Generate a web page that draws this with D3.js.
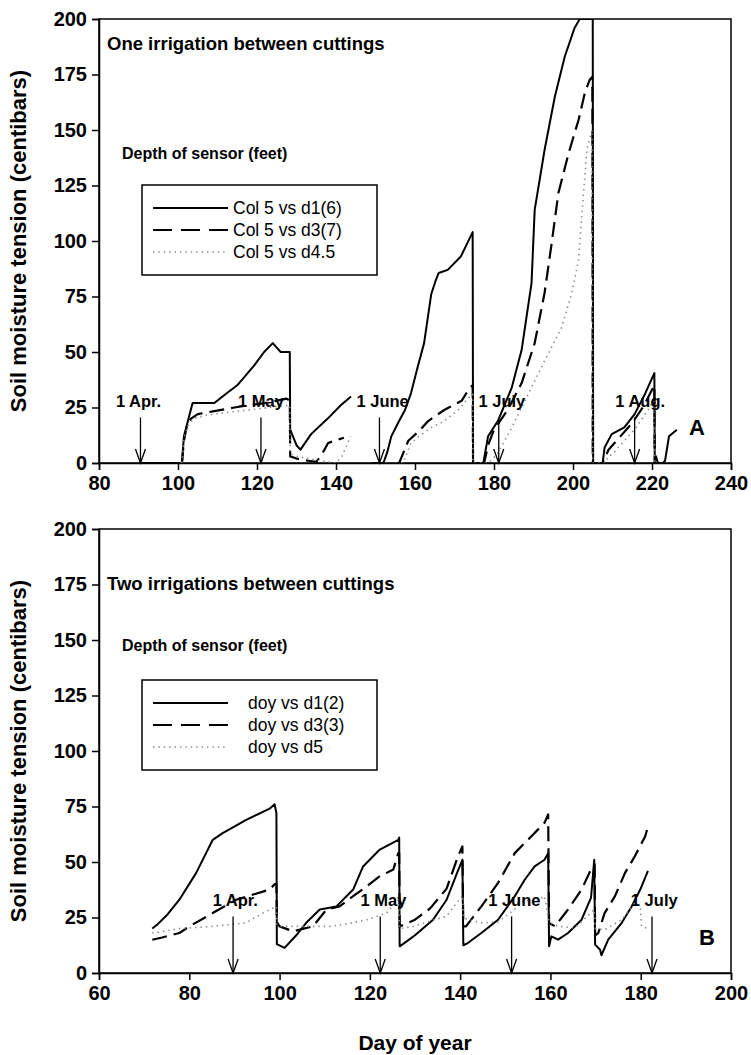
<!DOCTYPE html>
<html><head><meta charset="utf-8">
<script src="https://cdn.jsdelivr.net/npm/d3@7"></script>
<style>
body{margin:0;background:#fff;}
text{font-family:"Liberation Sans",Arial,sans-serif;fill:#000;}
</style></head>
<body><svg id="c" width="751" height="1055"></svg>
<script>
// ---------- DATA ----------
const topXTicks = [80,100,120,140,160,180,200,220,240];
const botXTicks = [60,80,100,120,140,160,180,200];
const yTicks = [0,25,50,75,100,125,150,175,200];

// Panel A: one irrigation between cuttings  [day, centibars]; null = gap
const topD1 = [[90,0],[101,0],[101.5,12],[102.8,21],[103.7,27],[109.2,27],[112,31],[115,35],[119.3,44],[121.8,50],[124,54],[125,52],[126,50],[128.3,50],[128.4,15],[130,8],[131,6],[133.7,13],[137.9,20],[141.2,26],[143.8,30],null,
 [149,0],[152,0],[153,5],[154,12],[156,19],[157.5,24],[159,31.5],[160.5,42],[162.3,54],[164.1,76],[165.2,82],[166,85.6],[168.3,87],[171.6,93],[174.6,104],[174.7,0],[177.3,0],[178.5,12],[181,19],[184.5,34],[187,51],[189.5,81],[190.3,114],[192.8,141],[195.4,165],[197.9,183],[200.4,196],[201.7,200],[205,200],[205.1,0],[207.5,0],[208,7],[209.8,13],[213,16],[215.6,22],[218.2,31],[220.6,40.5],[220.7,0],[221,3],[221.5,0],[222.8,0],[223.3,1],[224.3,12],[226.3,15]];
const topD3 = [[101,0],[101.5,10],[102.4,18],[103.3,20],[105,22],[109.2,23.4],[114.3,25],[118,26],[122,27],[127.5,29],[128.3,28],[128.4,3],[130,2],[133,1],[135,0.5],[136.3,3.5],[138,9],[139.6,10],[142,11.4],null,
 [155.5,0],[156,0],[158.3,10],[160.8,14],[163.4,19],[167.5,24],[171.8,28],[173.9,34],[174.6,35],[174.7,0],[177.5,0],[178.5,8],[180,15],[183.5,24],[187,36],[190.3,54],[192.8,76.6],[194.6,99],[196.3,121.6],[198.9,139.6],[201.4,154.5],[203,166.7],[204.2,172.5],[204.9,174],[205,0],[207.5,0],[209,6],[212,12],[215,18],[218,26],[220,33],[220.6,35],[220.7,0]];
const topD45 = [[101,0],[101.6,12],[102.6,17],[104,20],[107,21.5],[111,22.5],[116,23.5],[121,24.5],[125,25.5],[128.3,26],[128.4,4],[130,3],[133,2],[136,1],[140,0],[141.5,3],[143.7,12],null,
 [156.5,0],[157,0],[159,9],[161,12],[164.2,16],[167.5,19],[171,24],[173.9,30],[174.6,31],[174.7,0],[178.5,0],[179.5,1.5],[181,4.5],[184.5,16],[188.8,31.5],[192.8,46],[197.1,61],[199.7,76.6],[201.4,91.4],[202.2,111],[203,129],[203.5,141],[204.8,150],[205,0],[208,0],[209,3],[210,4],[213,10],[216,16],[219,24],[220.4,28],[220.7,0]];

// Panel B: two irrigations between cuttings
const botD1 = [[71.8,20],[73,22],[75,26],[77.8,33],[81.5,45],[85.2,60],[87.4,63],[92.6,69],[97.8,74],[98.9,76],[99.3,72],[99.4,13],[101.1,11.3],[103.7,17],[105.9,22.6],[108.9,28.6],[112.6,30],[116.3,37.6],[118.5,48],[122.2,55.6],[126.3,60],[126.5,61],[126.6,12],[128,14],[130,17],[134,24],[137,33],[139.3,45],[140.5,51],[140.7,12.5],[141.7,13.5],[144.7,18],[148.4,24],[152.1,34.6],[154.3,42],[156.5,48],[158.7,51],[159.5,54],[159.7,12],[160.2,16.5],[161.7,15],[163.9,18],[166.9,24],[169,34],[169.7,51],[169.9,12.8],[171,10.5],[171.3,8],[172.8,15],[175.8,22.6],[178,30],[179.9,37.6],[181.6,46]];
const botD3 = [[71.8,15],[74,16],[77.8,18],[80,21],[85.2,27],[90.4,33],[97.8,37.6],[98.9,40],[99.3,40],[99.4,23],[100,21],[103,18.8],[107.4,21],[110.4,28.6],[113.3,30],[116.3,34.6],[119.3,39],[122.2,43.6],[125.2,46.6],[126.3,54],[126.5,54],[126.6,21],[130,24],[133.3,29],[137,38],[139.6,53],[140.5,57],[140.7,21],[141.3,21],[144.7,30],[148.4,40.6],[152.1,54],[155.8,61.6],[158.7,67.7],[159.5,71.4],[159.7,22.6],[161,21],[163.9,28.6],[166.9,37.6],[169.3,48],[169.8,49],[169.9,17],[170.6,18],[172,27],[174.3,34.6],[176.5,45],[178.7,52.6],[181,61.6],[181.6,66]];
const botD5 = [[71.8,18],[75,19],[77.8,20],[85.2,21],[92.6,22.6],[96.3,27],[99.3,30],[99.4,22],[100,21],[105,21],[111,21],[114.8,22],[119.3,24],[123.7,27],[126.3,33],[126.6,20],[129.6,21],[137,25.6],[140.5,35],[140.7,25],[141.7,24],[144.7,22.6],[148.4,23],[152,28.6],[154.3,33],[156.5,31.6],[158.7,34.6],[159.7,23],[161.7,21],[165.4,20.3],[168.4,26],[169.7,28.6],[169.9,20],[172,19.5],[175.8,24],[178.7,31.6],[179.9,30],[180.2,21],[181.6,20]];

// month markers
const topMonths = ["1 Apr.","1 May","1 June","1 July","1 Aug."];
const topMonthDay = [90.5,121,151,181.2,215.6];
const topMonthLabelDay = [90,121,151.8,182,217];
const botMonths = ["1 Apr.","1 May","1 June","1 July"];
const botMonthDay = [89.7,122.3,151.4,182.5];
const botMonthLabelDay = [90.2,123,152,183];

const legendTop = ["Col 5 vs d1(6)","Col 5 vs d3(7)","Col 5 vs d4.5"];
const legendBot = ["doy vs d1(2)","doy vs d3(3)","doy vs d5"];

// ---------- DRAW ----------
const svg = d3.select("#c");
const styles = [
  {stroke:"#000", w:2, dash:null},
  {stroke:"#000", w:2.2, dash:"15,7"},
  {stroke:"#8a8a8a", w:1.6, dash:"1.4,4"}
];

function panel(cfg){
  const x = d3.scaleLinear().domain(cfg.xdom).range([99,731]);
  const y = d3.scaleLinear().domain([0,200]).range([cfg.y0, cfg.y0-444]);
  const g = svg.append("g");
  const id = "clip"+cfg.name;
  svg.append("clipPath").attr("id",id).append("rect")
     .attr("x",99).attr("y",cfg.y0-444).attr("width",632).attr("height",444);
  g.append("rect").attr("x",99).attr("y",cfg.y0-444).attr("width",632).attr("height",444)
   .attr("fill","none").attr("stroke","#000").attr("stroke-width",1.5);
  const ya = g.append("g").attr("transform","translate(99,0)")
    .call(d3.axisLeft(y).tickValues(yTicks).tickSize(7).tickPadding(5));
  const xa = g.append("g").attr("transform",`translate(0,${cfg.y0})`)
    .call(d3.axisBottom(x).tickValues(cfg.xticks).tickSize(7).tickPadding(6));
  [ya,xa].forEach(a=>{
    a.select(".domain").attr("stroke-width",1.5);
    a.selectAll(".tick line").attr("stroke-width",1.5);
    a.selectAll("text").attr("font-size",20).attr("font-weight","bold")
      .attr("font-family","Liberation Sans, Arial, sans-serif");
  });
  const line = d3.line().defined(d=>d!==null).x(d=>x(d[0])).y(d=>y(d[1]));
  const sg = g.append("g").attr("clip-path",`url(#${id})`);
  cfg.series.forEach((s,i)=>{
    sg.append("path").datum(s).attr("d",line).attr("fill","none")
      .attr("stroke",styles[i].stroke).attr("stroke-width",styles[i].w)
      .attr("stroke-dasharray",styles[i].dash).attr("stroke-linejoin","round");
  });
  cfg.months.forEach((m,i)=>{
    const ax = x(cfg.mday[i]);
    const top = y(cfg.arrowTop), bot = y(0);
    g.append("line").attr("x1",ax).attr("x2",ax).attr("y1",top).attr("y2",bot)
      .attr("stroke","#000").attr("stroke-width",1.3);
    g.append("path").attr("d",`M${ax-5},${bot-14}L${ax},${bot}L${ax+5},${bot-14}`)
      .attr("fill","none").attr("stroke","#000").attr("stroke-width",1.3);
    g.append("text").attr("x",x(cfg.lday[i])).attr("y",y(cfg.labelVal))
      .attr("text-anchor","middle").attr("dominant-baseline","central")
      .attr("font-size",16.5).attr("font-weight","bold").text(m);
  });
  g.append("text").attr("x",107).attr("y",cfg.y0-444+cfg.titleDy).attr("font-size",18.5)
    .attr("font-weight","bold").attr("dominant-baseline","central").text(cfg.title);
  g.append("text").attr("x",122).attr("y",cfg.depthY).attr("font-size",16)
    .attr("font-weight","bold").attr("dominant-baseline","central").text("Depth of sensor (feet)");
  const L = cfg.legend;
  g.append("rect").attr("x",142).attr("y",L.y).attr("width",235).attr("height",90)
    .attr("fill","#fff").attr("stroke","#000").attr("stroke-width",1.5);
  cfg.legendText.forEach((t,i)=>{
    const ly = L.y + 23 + i*22;
    g.append("line").attr("x1",153).attr("x2",228).attr("y1",ly).attr("y2",ly)
      .attr("stroke",styles[i].stroke).attr("stroke-width",styles[i].w)
      .attr("stroke-dasharray",i===1?"19,9":styles[i].dash);
    g.append("text").attr("x",L.tx).attr("y",ly).attr("dominant-baseline","central")
      .attr("font-size",17.5).text(t);
  });
  g.append("text").attr("x",cfg.letterX).attr("y",cfg.letterY).attr("font-size",22)
    .attr("font-weight","bold").attr("text-anchor","middle").attr("dominant-baseline","central").text(cfg.letter);
  g.append("text").attr("transform",`translate(18,${cfg.y0-222}) rotate(-90)`)
    .attr("text-anchor","middle").attr("dominant-baseline","central")
    .attr("font-size",22).attr("font-weight","bold").text("Soil moisture tension (centibars)");
}

panel({name:"A", xdom:[80,240], xticks:topXTicks, y0:463,
  series:[topD1,topD3,topD45], months:topMonths, mday:topMonthDay, lday:topMonthLabelDay,
  arrowTop:20.5, labelVal:28, title:"One irrigation between cuttings", titleDy:24,
  depthY:153, legend:{y:185, tx:233}, legendText:legendTop, letter:"A", letterX:697, letterY:427});
panel({name:"B", xdom:[60,200], xticks:botXTicks, y0:973,
  series:[botD1,botD3,botD5], months:botMonths, mday:botMonthDay, lday:botMonthLabelDay,
  arrowTop:25.5, labelVal:33, title:"Two irrigations between cuttings", titleDy:54,
  depthY:645, legend:{y:680, tx:248}, legendText:legendBot, letter:"B", letterX:707, letterY:937});

svg.append("text").attr("x",415).attr("y",1042).attr("text-anchor","middle")
  .attr("dominant-baseline","central").attr("font-size",21).attr("font-weight","bold").text("Day of year");
</script></body></html>
